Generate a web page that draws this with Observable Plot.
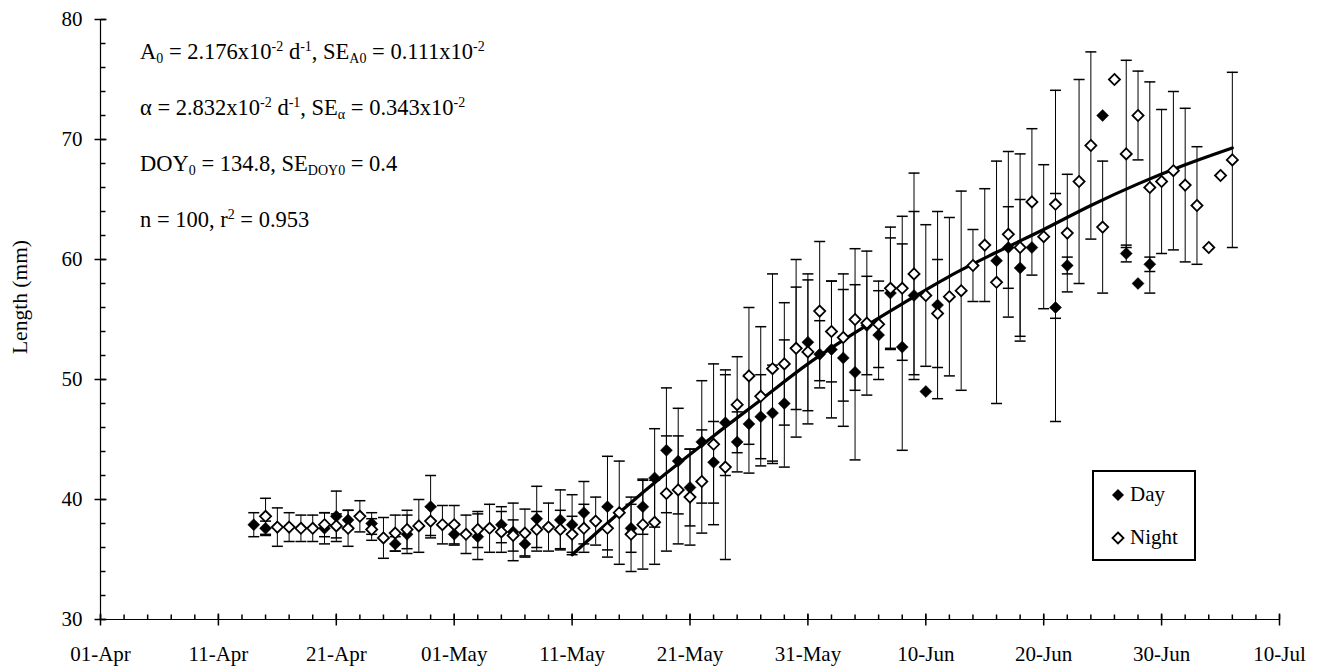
<!DOCTYPE html>
<html>
<head>
<meta charset="utf-8">
<script src="https://cdn.jsdelivr.net/npm/d3@7"></script>
<script src="https://cdn.jsdelivr.net/npm/@observablehq/plot@0.6"></script>
<style>
  body { margin: 0; background: #fff; }
  #wrap { position: relative; width: 1325px; height: 668px; font-family: "Liberation Serif", "Times New Roman", serif; color: #000; }
  .ann { position: absolute; left: 140px; font-size: 22.5px; white-space: nowrap; line-height: 22px; }
  .ann sup, .ann sub { font-size: 14px; position: relative; vertical-align: baseline; line-height: 0; }
  .ann sup { top: -8.5px; }
  .ann sub { top: 4px; }
  #ylab { position: absolute; left: 20px; top: 297px; transform: translate(-50%, -50%) rotate(-90deg); font-size: 21.5px; white-space: nowrap; }
  #legend { position: absolute; left: 1092px; top: 470px; width: 104px; height: 91px; box-sizing: border-box; border: 2px solid #000; background: #fff; font-size: 21px; }
  .li { position: absolute; left: 0; height: 24px; line-height: 24px; white-space: nowrap; }
  .li svg { position: absolute; left: 17px; top: 6px; }
  .li span { position: absolute; left: 36px; top: 0; }
</style>
</head>
<body>
<div id="wrap"></div>
<script>
const year = 2004;

// x-axis tick labels (every 10 days)
const xTickLabels = ["01-Apr","11-Apr","21-Apr","01-May","11-May","21-May","31-May","10-Jun","20-Jun","30-Jun","10-Jul"];
const yTicks = [30, 40, 50, 60, 70, 80];

// Day series (filled diamonds): date, mean length (mm), error (mm, null = no bar)
const dayDates = ["14-Apr","15-Apr","20-Apr","21-Apr","22-Apr","24-Apr","26-Apr","27-Apr","29-Apr","01-May",
  "03-May","05-May","06-May","07-May","08-May","10-May","11-May","12-May","14-May","16-May",
  "17-May","18-May","19-May","20-May","21-May","22-May","23-May","24-May","25-May","26-May",
  "27-May","28-May","29-May","30-May","31-May","01-Jun","02-Jun","03-Jun","04-Jun","05-Jun",
  "06-Jun","07-Jun","08-Jun","09-Jun","10-Jun","11-Jun","16-Jun","17-Jun","18-Jun","19-Jun",
  "21-Jun","22-Jun","25-Jun","27-Jun","28-Jun","29-Jun"];
const dayLen = [37.9,37.6,37.6,38.6,38.3,38.0,36.3,37.1,39.4,37.1,
  36.9,37.9,37.3,36.3,38.4,38.3,37.9,38.9,39.4,37.6,
  39.4,41.8,44.1,43.2,41.0,44.8,43.1,46.4,44.8,46.3,
  46.9,47.2,48.0,52.6,53.1,52.1,52.5,51.8,50.6,54.5,
  53.7,57.2,52.7,57.0,49.0,56.2,59.9,61.0,59.3,61.0,
  56.0,59.5,72.0,60.5,58.0,59.6];
const daySD = [1.0,0.6,1.3,2.1,0.8,0.9,0.6,1.6,2.6,0.9,
  1.9,1.5,2.4,1.0,2.7,2.5,2.5,2.6,4.2,2.0,
  2.3,4.1,5.2,4.4,3.2,5.1,3.4,4.4,2.5,4.1,
  3.5,4.0,5.3,5.1,5.7,2.8,5.7,5.7,7.3,4.1,
  3.7,4.6,8.6,7.0,null,7.8,null,3.4,5.7,null,
  9.5,0.7,null,0.7,null,0.6];

// Night series (open diamonds)
const nightDates = ["15-Apr","16-Apr","17-Apr","18-Apr","19-Apr","20-Apr","21-Apr","22-Apr","23-Apr","24-Apr",
  "25-Apr","26-Apr","27-Apr","28-Apr","29-Apr","30-Apr","01-May","02-May","03-May","04-May",
  "05-May","06-May","07-May","08-May","09-May","10-May","11-May","12-May","13-May","14-May",
  "15-May","16-May","17-May","18-May","19-May","20-May","21-May","22-May","23-May","24-May",
  "25-May","26-May","27-May","28-May","29-May","30-May","31-May","01-Jun","02-Jun","03-Jun",
  "04-Jun","05-Jun","06-Jun","07-Jun","08-Jun","09-Jun","10-Jun","11-Jun","12-Jun","13-Jun",
  "14-Jun","15-Jun","16-Jun","17-Jun","18-Jun","19-Jun","20-Jun","21-Jun","22-Jun","23-Jun",
  "24-Jun","25-Jun","26-Jun","27-Jun","28-Jun","29-Jun","30-Jun","01-Jul","02-Jul","03-Jul",
  "04-Jul","05-Jul","06-Jul"];
const nightLen = [38.6,37.7,37.7,37.6,37.6,37.9,37.8,37.6,38.6,37.5,
  36.8,37.2,37.5,37.8,38.2,37.9,37.9,37.1,37.5,37.6,
  37.3,37.0,37.2,37.5,37.7,37.5,37.1,37.6,38.2,37.6,
  38.9,37.1,37.9,38.1,40.5,40.8,40.2,41.5,44.6,42.7,
  47.9,50.3,48.6,50.9,51.3,52.6,52.3,55.7,54.0,53.5,
  55.0,54.7,54.6,57.6,57.6,58.8,57.0,55.5,56.9,57.4,
  59.5,61.2,58.1,62.1,61.0,64.8,61.9,64.6,62.2,66.5,
  69.5,62.7,75.0,68.8,72.0,66.0,66.5,67.4,66.2,64.5,
  61.0,67.0,68.3];
const nightSD = [1.5,1.6,1.2,1.1,1.1,1.0,1.0,1.5,1.3,0.9,
  1.7,1.5,1.6,2.2,1.2,1.6,1.6,1.6,1.5,2.0,
  1.7,1.3,2.0,1.5,2.0,1.6,1.5,2.0,2.0,1.8,
  4.3,3.1,3.7,3.5,4.8,4.5,4.0,4.3,6.7,7.7,
  4.0,5.7,5.8,7.9,5.1,7.4,6.0,5.8,4.2,5.3,
  5.9,6.0,3.6,5.1,6.0,8.4,5.9,4.5,6.6,8.3,
  3.0,4.7,10.1,6.9,7.8,6.1,6.0,9.5,4.9,8.5,
  7.8,5.5,null,7.8,3.7,8.8,6.0,6.6,6.4,4.9,
  null,null,7.3];

// Fitted growth curve
const curveDates = ["11-May","15-May","19-May","23-May","27-May","31-May","04-Jun","08-Jun",
  "12-Jun","16-Jun","20-Jun","24-Jun","28-Jun","02-Jul","06-Jul"];
const curveLen = [35.4,38.9,42.2,45.3,48.3,51.3,53.9,56.3,58.6,60.6,62.5,64.5,66.3,67.9,69.3];

const parse = d3.utcParse("%d-%b-%Y");
const toDate = s => parse(s + "-" + year);

const dayData = dayDates.map((s, i) => ({date: toDate(s), len: dayLen[i], sd: daySD[i]}));
const nightData = nightDates.map((s, i) => ({date: toDate(s), len: nightLen[i], sd: nightSD[i]}));
const curveData = curveDates.map((s, i) => ({date: toDate(s), len: curveLen[i]}));
const bars = [...dayData, ...nightData].filter(d => d.sd != null);

const xMajor = xTickLabels.map(toDate);
const labelOf = new Map(xMajor.map((d, i) => [+d, xTickLabels[i]]));
const xMinor = d3.utcDay.range(xMajor[0], d3.utcDay.offset(xMajor[xMajor.length - 1], 1), 2);
const yMinor = d3.range(30, 81, 2);

// custom line symbols for ticks and caps
const capSym = {draw(c) { c.moveTo(-5.5, 0); c.lineTo(5.5, 0); }};
const xMajorSym = {draw(c) { c.moveTo(0, -6); c.lineTo(0, 6); }};
const xMinorSym = {draw(c) { c.moveTo(0, -5); c.lineTo(0, 0); }};
const yMajorSym = {draw(c) { c.moveTo(-6, 0); c.lineTo(6, 0); }};
const yMinorSym = {draw(c) { c.moveTo(0, 0); c.lineTo(5, 0); }};

const chart = Plot.plot({
  width: 1325,
  height: 668,
  marginLeft: 100,
  marginRight: 46,
  marginTop: 19,
  marginBottom: 49,
  x: {type: "utc", domain: [xMajor[0], xMajor[xMajor.length - 1]]},
  y: {domain: [30, 80]},
  style: {fontFamily: "'Liberation Serif', 'Times New Roman', serif", fontSize: "21px", color: "#000", background: "#fff"},
  marks: [
    Plot.ruleY([30], {stroke: "#000", strokeWidth: 1.2}),
    Plot.ruleX([xMajor[0]], {stroke: "#000", strokeWidth: 1.2}),
    Plot.dot(xMinor, {x: d => d, y: () => 30, symbol: xMinorSym, stroke: "#000", fill: "none"}),
    Plot.dot(xMajor, {x: d => d, y: () => 30, symbol: xMajorSym, stroke: "#000", fill: "none"}),
    Plot.dot(yMinor, {x: () => xMajor[0], y: d => d, symbol: yMinorSym, stroke: "#000", fill: "none"}),
    Plot.dot(yTicks, {x: () => xMajor[0], y: d => d, symbol: yMajorSym, stroke: "#000", fill: "none"}),
    Plot.axisX({ticks: xMajor, tickFormat: d => labelOf.get(+d), tickSize: 0, tickPadding: 27, fontSize: 21, label: null}),
    Plot.axisY({ticks: yTicks, tickSize: 0, tickPadding: 18, fontSize: 21, label: null}),
    // error bars
    Plot.ruleX(bars, {x: "date", y1: d => d.len - d.sd, y2: d => d.len + d.sd, stroke: "#000", strokeWidth: 1}),
    Plot.dot(bars, {x: "date", y: d => d.len + d.sd, symbol: capSym, stroke: "#000", fill: "none"}),
    Plot.dot(bars, {x: "date", y: d => d.len - d.sd, symbol: capSym, stroke: "#000", fill: "none"}),
    // fitted curve
    Plot.line(curveData, {x: "date", y: "len", curve: "monotone-x", stroke: "#000", strokeWidth: 3.2}),
    // markers
    Plot.dot(dayData, {x: "date", y: "len", symbol: "diamond2", r: 5.4, fill: "#000", stroke: "#000", strokeWidth: 0.5}),
    Plot.dot(nightData, {x: "date", y: "len", symbol: "diamond2", r: 5.0, fill: "#fff", stroke: "#000", strokeWidth: 1.8})
  ]
});

const wrap = document.getElementById("wrap");
wrap.appendChild(chart);

const ann = [
  {top: 41, html: "A<sub>0</sub> = 2.176x10<sup>-2</sup> d<sup>-1</sup>, SE<sub>A0</sub> = 0.111x10<sup>-2</sup>"},
  {top: 97, html: "&alpha; = 2.832x10<sup>-2</sup> d<sup>-1</sup>, SE<sub>&alpha;</sub> = 0.343x10<sup>-2</sup>"},
  {top: 153, html: "DOY<sub>0</sub> = 134.8, SE<sub>DOY0</sub> = 0.4"},
  {top: 209, html: "n = 100, r<sup>2</sup> = 0.953"}
];
for (const a of ann) {
  const div = document.createElement("div");
  div.className = "ann";
  div.style.top = a.top + "px";
  div.innerHTML = a.html;
  wrap.appendChild(div);
}

const ylab = document.createElement("div");
ylab.id = "ylab";
ylab.textContent = "Length (mm)";
wrap.appendChild(ylab);

const legend = document.createElement("div");
legend.id = "legend";
legend.innerHTML =
  '<div class="li" style="top:10px"><svg width="14" height="14"><path d="M7,1L13,7L7,13L1,7Z" fill="#000"/></svg><span>Day</span></div>' +
  '<div class="li" style="top:53px"><svg width="14" height="14"><path d="M7,1.5L12.5,7L7,12.5L1.5,7Z" fill="#fff" stroke="#000" stroke-width="1.8"/></svg><span>Night</span></div>';
wrap.appendChild(legend);
</script>
</body>
</html>
